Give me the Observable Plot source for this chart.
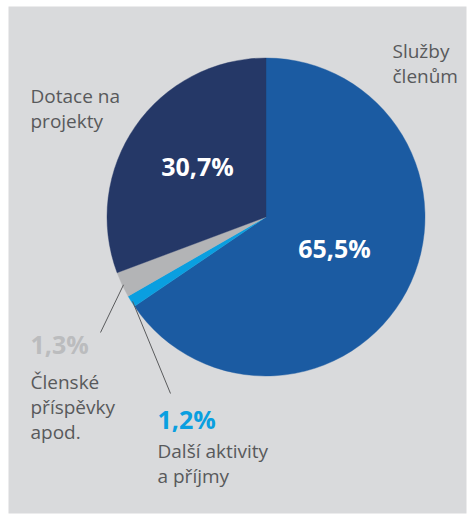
<!DOCTYPE html>
<html><head><meta charset="utf-8">
<script src="https://cdn.jsdelivr.net/npm/d3@7"></script>
<script src="https://cdn.jsdelivr.net/npm/@observablehq/plot@0.6"></script>
<style>html,body{margin:0;padding:0;background:#fff}</style>
</head><body><div id="chart"></div>
<script>
// Data (clockwise from 12 o'clock)
const categories = ["Služby\nčlenům", "Další aktivity\na příjmy", "Členské\npříspěvky\napod.", "Dotace na\nprojekty"];
const values = [65.5, 1.2, 2.6, 30.7];           // slice shares as drawn
const pctLabels = ["65,5%", "1,2%", "1,3%", "30,7%"];
const colors = ["#1b5ba2", "#0a9fe0", "#b3b4b6", "#253867"];

const data = categories.map((c, i) => ({category: c, value: values[i], pct: pctLabels[i], color: colors[i]}));

// Layout (pixels)
const W = 468, H = 515;
const pieCX = 266, pieCY = 217, pieR = 159;
const textColor = "#58595b";

const arcs = d3.pie().sort(null).value(d => d.value)(data);
const arcGen = d3.arc().innerRadius(0);

function pieMark(index, scales) {
  const cx = scales.x(pieCX), cy = scales.y(pieCY), r = scales.x(pieCX + pieR) - cx;
  const g = d3.create("svg:g").attr("transform", `translate(${cx},${cy})`);
  g.selectAll("path").data(arcs).join("path")
    .attr("d", d => arcGen.outerRadius(r)(d))
    .attr("fill", d => d.data.color)
    .attr("stroke", d => d.data.color)
    .attr("stroke-width", 0.4);
  return g.node();
}

function arcPoint(d, rad) {
  const a = (d.startAngle + d.endAngle) / 2;
  return [pieCX + rad * Math.sin(a), pieCY - rad * Math.cos(a)];
}

// leader lines for the two small slices
const leaderEnds = {1: [170, 393], 2: [100, 332]};
const leaders = [1, 2].map(i => {
  const [x1, y1] = arcPoint(arcs[i], pieR - 1);
  return {x1, y1, x2: leaderEnds[i][0], y2: leaderEnds[i][1]};
});

// label placement
const nameText = [
  {text: data[0].category, x: 392, y: 82},
  {text: data[3].category, x: 30, y: 127},
  {text: data[2].category, x: 30, y: 438},
  {text: data[1].category, x: 157, y: 482}
];
const pctInside = [
  {text: data[3].pct, x: 197, y: 175, fill: "#ffffff"},
  {text: data[0].pct, x: 334, y: 257, fill: "#ffffff"}
];
const pctOutside = [
  {text: data[2].pct, x: 30, y: 353, fill: "#bbbcbe"},
  {text: data[1].pct, x: 157, y: 428, fill: "#0a9fe0"}
];

const chart = Plot.plot({
  width: W, height: H,
  marginLeft: 8, marginTop: 6, marginRight: 2, marginBottom: 2,
  x: {domain: [0, W], range: [0, W], axis: null},
  y: {domain: [0, H], range: [0, H], axis: null},
  style: {fontFamily: "'Open Sans', sans-serif", background: "#ffffff"},
  marks: [
    Plot.frame({fill: "#d9dadc", stroke: "none"}),
    pieMark,
    Plot.link(leaders, {x1: "x1", y1: "y1", x2: "x2", y2: "y2", stroke: "#5a5b5d", strokeWidth: 1}),
    Plot.text(nameText, {x: "x", y: "y", text: "text", textAnchor: "start", lineAnchor: "bottom",
      fontSize: 19, lineHeight: 1.29, fill: textColor}),
    Plot.text(pctInside, {x: "x", y: "y", text: "text", textAnchor: "middle", lineAnchor: "bottom",
      fontSize: 25, fontWeight: "bold", fill: d => d.fill, letterSpacing: -0.8}),
    Plot.text(pctOutside, {x: "x", y: "y", text: "text", textAnchor: "start", lineAnchor: "bottom",
      fontSize: 25, fontWeight: "bold", fill: d => d.fill, letterSpacing: -0.8})
  ]
});
document.getElementById("chart").appendChild(chart);
</script>
</body></html>
